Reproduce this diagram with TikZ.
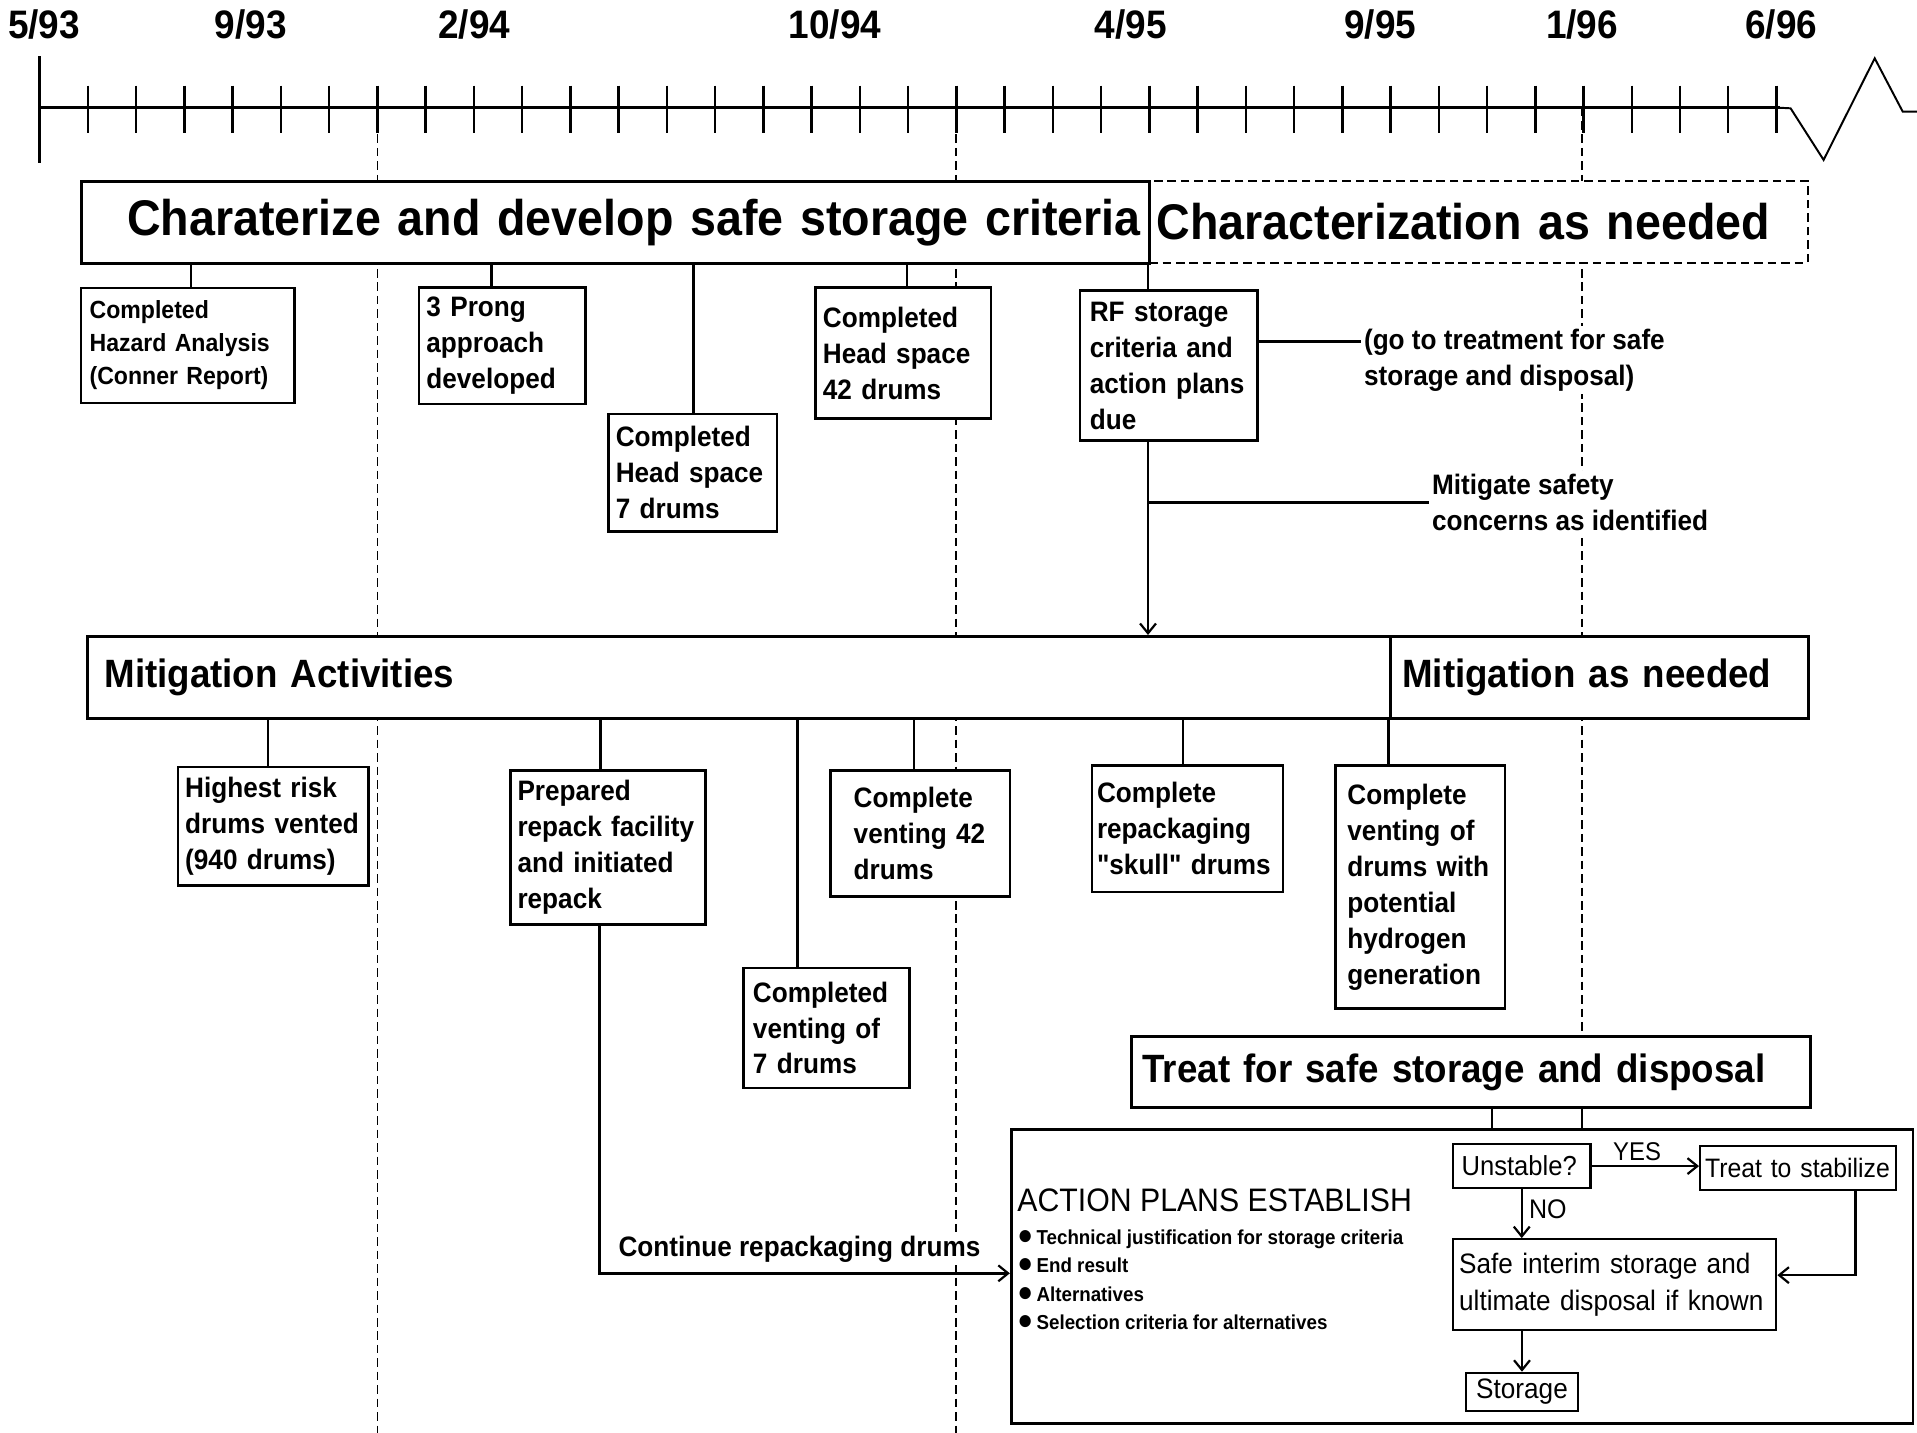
\documentclass[tikz,border=0pt]{standalone}
\usepackage{fontspec}
\setmainfont{Liberation Sans}[FakeStretch=0.93, Ligatures=TeXOff]
\usetikzlibrary{arrows.meta}
\newcommand{\fsz}[2]{\fontsize{#1}{#2}\selectfont}
\newcommand{\bul}{{\fontsize{23}{23}\selectfont ●}\,}
\begin{document}
\begin{tikzpicture}[x=1pt,y=-1pt,
  box/.style={draw, line width=2.2pt, fill=white, anchor=north west, align=left, inner ysep=2pt, font=\bfseries\fsz{23}{29.4}},
  bigbox/.style={draw, line width=2.4pt, fill=white, anchor=north west, align=left, inner ysep=0pt, font=\bfseries\fsz{41}{48}},
  midbox/.style={draw, line width=2.4pt, fill=white, anchor=north west, align=left, inner ysep=0pt, font=\bfseries\fsz{32.3}{38}},
  flow/.style={draw, line width=1.8pt, fill=white, anchor=north west, align=left, inner ysep=0pt, font=\fsz{22.5}{30}},
  conn/.style={line width=2pt},
  tl/.style={line width=1.4pt, dash pattern=on 7pt off 4pt},
  arr/.style={-{Straight Barb[length=8pt,width=13pt,line width=1.8pt]}},
  datel/.style={font=\bfseries\fsz{32.5}{36}, inner sep=0pt},
  lbl/.style={fill=white, align=left, font=\bfseries\fsz{23}{29.4}, inner sep=2.5pt}
]
\useasboundingbox (0,0) rectangle (1568,1172);
\fill[white] (0,0) rectangle (1568,1172);

% time axis
\draw[line width=2.6pt] (32.5,88) -- (1456,88);
\draw[line width=1.6pt, line join=miter] (1453,88) -- (1464.6,88.6) -- (1491.6,130.8) -- (1533.4,47.7) -- (1556.3,91.3) -- (1568,91.3);
\draw[line width=2.6pt] (32.5,46) -- (32.5,133);
\foreach \i in {1,...,36} \draw[line width=2pt] ({32.5+39.46*\i},70) -- ++(0,39);

% dates
\node[datel] (d1) at (36,20) {5/93};
\node[datel] (d2) at (205,20) {9/93};
\node[datel] (d3) at (388,20) {2/94};
\node[datel] (d4) at (683,20) {10/94};
\node[datel] (d5) at (925,20) {4/95};
\node[datel] (d6) at (1129,20) {9/95};
\node[datel] (d7) at (1294,20) {1/96};
\node[datel] (d8) at (1457,20) {6/96};

% dashed time markers
\draw[tl] (308.7,88) -- (308.7,1172);
\draw[tl] (782.2,88) -- (782.2,1172);
\draw[tl] (1294,88) -- (1294,847);

% top row
\node[bigbox, dash pattern=on 7pt off 4pt, line width=1.8pt, text width=526.6pt, inner xsep=6pt, minimum height=66.8pt] (charn) at (939,147.2) {Characterization as needed};
\node[bigbox, align=right, text width=859.8pt, inner xsep=7pt, minimum height=66.8pt] (crit) at (65.2,147.2) {Charaterize and develop safe storage criteria};

\node[box, font=\bfseries\fsz{20.3}{27}, text width=160.4pt, inner xsep=7pt, minimum height=94pt] (hazard) at (65.2,234.5) {Completed\\Hazard Analysis\\(Conner Report)};
\node[box, text width=124pt, inner xsep=6pt, minimum height=95.3pt] (prong) at (341.7,234) {3 Prong\\approach\\developed};
\node[box, text width=125.8pt, inner xsep=6pt, minimum height=96pt] (head7) at (496.6,337.5) {Completed\\Head space\\7 drums};
\node[box, text width=131.4pt, inner xsep=6pt, minimum height=107.3pt] (head42) at (666,234) {Completed\\Head space\\42 drums};
\node[box, text width=129.2pt, inner xsep=8pt, minimum height=122.7pt] (rf) at (882.3,236.6) {RF storage\\criteria and\\action plans\\due};

\node[lbl, anchor=west] (goto) at (1113,294.4) {(go to treatment for safe\\storage and disposal)};
\node[lbl, anchor=west] (mitig) at (1168.6,411) {Mitigate safety\\concerns as identified};

\draw[conn] (156.4,0 |- crit.south) -- (156.4,0 |- hazard.north);
\draw[conn] (402,0 |- crit.south) -- (402,0 |- prong.north);
\draw[conn] (567.2,0 |- crit.south) -- (567.2,0 |- head7.north);
\draw[conn] (741.7,0 |- crit.south) -- (741.7,0 |- head42.north);
\draw[conn] (939,0 |- crit.south) -- (939,0 |- rf.north);
\draw[conn] (rf.east |- 0,279.4) -- (goto.west |- 0,279.4);

% mitigation row
\node[midbox, text width=1037.6pt, inner xsep=14pt, minimum height=67.3pt] (mita) at (70.2,519.4) {Mitigation Activities};
\node[midbox, text width=322.5pt, inner xsep=10pt, minimum height=67.3pt] (mitb) at (1135.8,519.4) {Mitigation as needed};

\draw[conn,arr] (939,0 |- rf.south) -- (939,0 |- mita.north);
\draw[conn] (939,0 |- mitig.west) -- (mitig.west);

\node[box, text width=143.9pt, inner xsep=6pt, minimum height=96.8pt] (high) at (144.4,626.2) {Highest risk\\drums vented\\(940 drums)};
\node[box, text width=147.7pt, inner xsep=6pt, minimum height=126.2pt] (prep) at (416.2,629) {Prepared\\repack facility\\and initiated\\repack};
\node[box, text width=120.2pt, inner xsep=8pt, minimum height=98.2pt] (ven7) at (606.8,790.6) {Completed\\venting of\\7 drums};
\node[box, text width=108.8pt, inner xsep=19pt, minimum height=103pt] (ven42) at (678.2,629) {Complete\\venting 42\\drums};
\node[box, text width=148pt, inner xsep=4pt, minimum height=103.6pt] (skull) at (892.2,624.9) {Complete\\repackaging\\"skull" drums};
\node[box, text width=119pt, inner xsep=10pt, minimum height=199pt] (hyd) at (1091,624.9) {Complete\\venting of\\drums with\\potential\\hydrogen\\generation};

\draw[conn] (219,0 |- mita.south) -- (219,0 |- high.north);
\draw[conn] (491.3,0 |- mita.south) -- (491.3,0 |- prep.north);
\draw[conn] (652.4,0 |- mita.south) -- (652.4,0 |- ven7.north);
\draw[conn] (747.7,0 |- mita.south) -- (747.7,0 |- ven42.north);
\draw[conn] (967.6,0 |- mita.south) -- (967.6,0 |- skull.north);
\draw[conn] (mitb.south west) -- (mitb.south west |- hyd.north);

% treatment
\node[midbox, text width=537.5pt, inner xsep=9pt, minimum height=58.1pt] (treat) at (924.3,846.5) {Treat for safe storage and disposal};
\node[draw, line width=2.2pt, fill=white, anchor=north west, minimum width=737.6pt, minimum height=240.4pt, inner sep=0pt] (action) at (826,922.6) {};
\draw[conn] (1220.4,0 |- treat.south) -- (1220.4,0 |- action.north);
\draw[conn] (1294,0 |- treat.south) -- (1294,0 |- action.north);

\node[anchor=west, font=\fsz{26.6}{30}, inner sep=0pt] (aphead) at (832,982) {ACTION PLANS ESTABLISH};
\node[anchor=north west, align=left, font=\bfseries\fsz{16.5}{23}, inner sep=0pt] (aplist) at (832,1006) {\bul Technical justification for storage criteria\\\bul End result\\\bul Alternatives\\\bul Selection criteria for alternatives};

\node[flow, text width=98.4pt, inner xsep=7pt, minimum height=35.8pt] (unst) at (1187.6,935) {Unstable?};
\node[flow, font=\fsz{21.8}{30}, text width=152.3pt, inner xsep=4pt, minimum height=36pt] (treatst) at (1389.7,936.5) {Treat to stabilize};
\node[flow, font=\fsz{23}{30}, text width=254.4pt, inner xsep=5pt, minimum height=74.3pt] (safe) at (1187.6,1012.7) {Safe interim storage and\\ultimate disposal if known};
\node[flow, font=\fsz{23}{30}, align=center, text width=82pt, inner xsep=5pt, minimum height=31pt] (storage) at (1198,1122) {Storage};
\node[font=\fsz{21}{24}, inner sep=1pt] (yes) at (1339,942) {YES};
\node[font=\fsz{22}{24}, inner sep=1pt] (no) at (1266,989) {NO};

\draw[line width=1.8pt,arr] (unst.east) -- (treatst.west |- unst.east);
\draw[line width=1.8pt,arr] (unst.south) -- (unst.south |- safe.north);
\draw[line width=1.8pt,arr] (1517.7,0 |- treatst.south) |- (safe.east |- 0,1043);
\draw[line width=1.8pt,arr] (storage.north |- safe.south) -- (storage.north);

% continue repackaging
\node[lbl, anchor=west, inner sep=2pt] (cont) at (503.7,1022) {Continue repackaging drums};
\draw[conn,arr] (490.5,0 |- prep.south) |- (action.west |- 0,1041.5);
\end{tikzpicture}
\end{document}
